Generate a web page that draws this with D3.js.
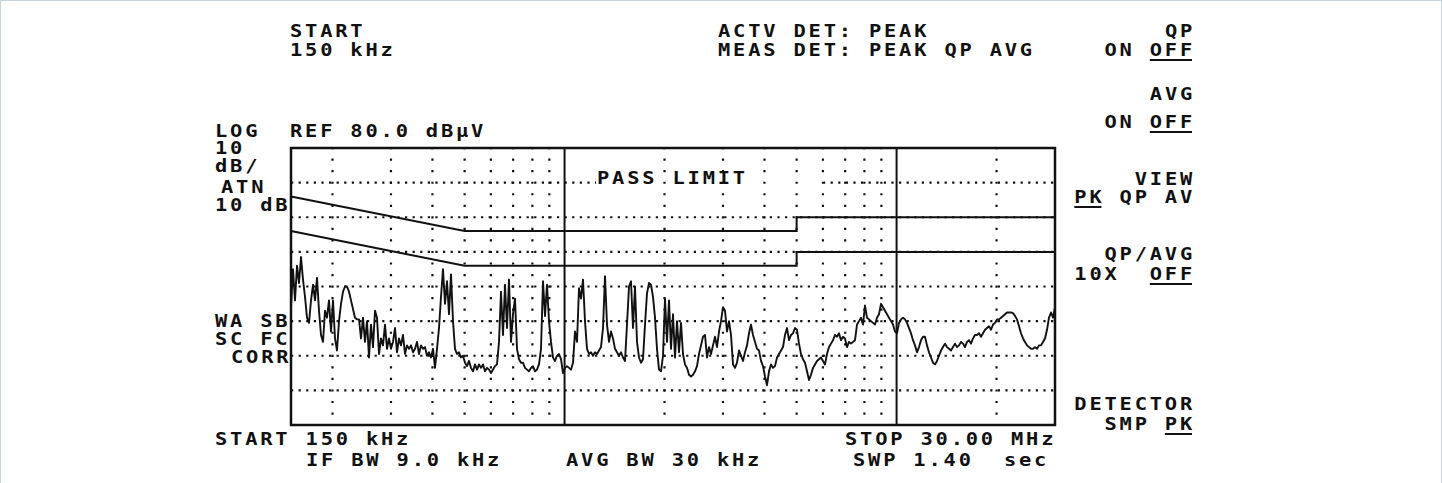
<!DOCTYPE html>
<html>
<head>
<meta charset="utf-8">
<script src="https://cdn.jsdelivr.net/npm/d3@7"></script>
<style>
  body { margin: 0; background: #fff; }
  text { font-family: "DejaVu Sans Mono", "Liberation Mono", monospace; font-weight: bold; fill: #111; }
</style>
</head>
<body>
<div id="viz"></div>
<script>
// EMI pre-scan, 150 kHz - 30 MHz, peak detector
let fStart = 0.15, fStop = 30;          // MHz
let refLevel = 80, dbPerDiv = 10, divs = 8;
let gridMinor = [0.2, 0.3, 0.4, 0.5, 0.6, 0.7, 0.8, 0.9, 2, 3, 4, 5, 6, 7, 8, 9, 20];
let gridMajor = [1, 10];
let gridLevels = [10, 20, 30, 40, 50, 60, 70];

// limit lines [MHz, dBuV]
let qpLimit  = [[0.15, 66], [0.5, 56], [5, 56], [5, 60], [30, 60]];
let avgLimit = [[0.15, 56], [0.5, 46], [5, 46], [5, 50], [30, 50]];

// measured trace, dBuV, sweep points equally spaced in log frequency
let traceDb = [
  34,45,36,46,41,48.5,42,37,31,29.5,
  36,40.5,36,42.5,33,26,24,33,31,36,
  27,36,25,21.5,30,35,38.5,40,40,38.5,
  36,33.5,31,30.5,30.5,25,31,24,30,19.5,
  29,22.5,33,31,20.5,25,23,29,22,25,
  22,24,28,21,25,23,26,20.5,23,22,
  23,21,22,24,20.5,23,22,22.5,20,21,
  19.5,22,16.5,22,28,37,45,35,41.5,32,
  43.5,30,22,20.5,21,19.5,20,18,17,18.5,
  16.5,15.5,17.5,16,17.5,16.5,17.5,15.5,16.5,16,
  15,16,17,17.5,24,38.5,26,40.5,28,42,
  24,32,36.5,22,19,18,18,16.5,16,15.5,
  16.5,17,15.5,16,17.5,22,41.5,31.5,40.5,30,
  24,19.5,18.5,20,20.5,19,15,16.5,17,16.5,
  16,18,27,24,39.5,36.5,42,30,22,20.5,
  21,20,21,20.5,21.5,22.5,28,43,29,24,
  27,25,22,21,20,21,19.5,18.5,29,40,
  41.5,28,40,24,19.5,18,19,29,38,41,
  40.5,37,31,22,16,15.5,20,36.5,24,36,
  22,32,19.5,30,21,29.5,20.5,17.5,16.5,14.5,
  14,14.5,15.5,17,20.5,23,25.5,26,19.5,22.5,
  20.5,23,25.5,22.5,27,30,34,33,27,30,
  26,17.5,16.5,18,21.5,20,18.5,21,23,26.5,
  29,26,24,22,21.5,18.5,17,14,11.5,15.5,
  17.5,16.5,17,19.5,20.5,21.5,22.5,26,28,24.5,
  26,26.5,28,27.5,23.5,20.5,19,18,15.5,13,
  14.5,16.5,17.5,18.5,19,19.5,18.5,17.5,20.5,22.5,
  23.5,24.5,26,25.5,26.5,24.5,25.5,25,22.5,24,
  23.5,24,24.5,29,30,31,29,34.5,31,30.5,
  30,29.5,29,31,32,35,34,33,32,31,
  30,29,27,26.5,29.5,30.5,31,30.5,29.5,28,
  26.5,24.5,23,21,22.5,24.5,25.5,25.5,23,21,
  19.5,18,17.5,18.5,20,21.5,22.5,23.5,22.5,22,
  21.5,22.5,23.5,22.5,23,24,23.5,22.5,24,24.5,
  23.5,25,26,26,26.5,25.5,26.5,27.5,28,28.5,
  27.5,29,29.5,30.5,30.5,31,31.5,32,32.5,32.5,
  32.5,32.3,31.5,30.5,28.5,26.5,25,24,23,22.5,
  22,22,22.5,22,23,23,24,25,27.5,31,
  32.5,31,34
];

// screen annotations: [text, x, baseline]
let leftLabels = [
  ["LOG", 215, 137], ["10", 215, 154], ["dB/", 215, 171.5], ["ATN", 221, 193], ["10 dB", 215, 210.5],
  ["WA SB", 215, 327], ["SC FC", 215, 345], ["CORR", 231, 363]
];
let headLabels = [
  ["START", 290, 36.5], ["150 kHz", 290, 56], ["REF 80.0 dBµV", 290, 137],
  ["ACTV DET: PEAK", 718, 36.5], ["MEAS DET: PEAK QP AVG", 718, 56]
];
let footLabels = [
  ["START 150 kHz", 215, 445], ["STOP 30.00 MHz", 845, 445],
  ["IF BW 9.0 kHz", 306, 466], ["AVG BW 30 kHz", 566, 466], ["SWP 1.40  sec", 853, 466]
];
// softkey menu, right aligned: [text, baseline, underlined chars]
let menuLabels = [
  ["QP", 36.5, null], ["ON OFF", 56, [3, 6]],
  ["AVG", 100, null], ["ON OFF", 128, [3, 6]],
  ["VIEW", 185, null], ["PK QP AV", 203, [0, 2]],
  ["QP/AVG", 260, null], ["10X  OFF", 280, [5, 8]],
  ["DETECTOR", 410, null], ["SMP PK", 430, [4, 6]]
];
let passText = "PASS LIMIT";

let width = 1442, height = 483;
let plot = {left: 291, right: 1055, top: 148, bottom: 425};
let pitch = 15.1, fontSize = 17, sx = 1.2, glyphW = 12;

let svg = d3.select("#viz").append("svg")
  .attr("width", width).attr("height", height);

svg.append("rect").attr("x", 0.5).attr("y", 0.5).attr("width", width - 1).attr("height", height + 4)
  .attr("fill", "#fff").attr("stroke", "#c9d3dc");

let x = d3.scaleLog().domain([fStart, fStop]).range([plot.left, plot.right]);
let y = d3.scaleLinear().domain([refLevel - dbPerDiv * divs, refLevel]).range([plot.bottom, plot.top]);

// horizontal dotted graticule
svg.append("g").selectAll("line").data(gridLevels).join("line")
  .attr("x1", plot.left).attr("x2", plot.right)
  .attr("y1", d => y(d)).attr("y2", d => y(d))
  .attr("stroke", "#111").attr("stroke-width", 2.2)
  .attr("stroke-dasharray", "2.2,5.4");

// the 70 dB line is blanked under the annotation
svg.append("rect").attr("x", 596).attr("y", y(70) - 2).attr("width", 228).attr("height", 4).attr("fill", "#fff");

// vertical dotted graticule
let dotStep = (y(0) - y(dbPerDiv)) / 3;
svg.append("g").selectAll("line").data(gridMinor).join("line")
  .attr("x1", d => x(d)).attr("x2", d => x(d))
  .attr("y1", plot.top - 1).attr("y2", plot.bottom)
  .attr("stroke", "#111").attr("stroke-width", 2.2)
  .attr("stroke-dasharray", "2.2," + (dotStep - 2.2));

// decade lines
svg.append("g").selectAll("line").data(gridMajor).join("line")
  .attr("x1", d => x(d)).attr("x2", d => x(d))
  .attr("y1", plot.top).attr("y2", plot.bottom)
  .attr("stroke", "#111").attr("stroke-width", 2);

// limit lines
let limitLine = d3.line().x(d => x(d[0])).y(d => y(d[1]));
svg.append("g").selectAll("path").data([qpLimit, avgLimit]).join("path")
  .attr("d", limitLine)
  .attr("fill", "none").attr("stroke", "#111").attr("stroke-width", 2);

// trace
let n = traceDb.length;
let tracePts = traceDb.map((v, i) => [fStart * Math.pow(fStop / fStart, i / (n - 1)), v]);
svg.append("path").datum(tracePts)
  .attr("d", d3.line().x(d => x(d[0])).y(d => y(d[1])))
  .attr("fill", "none").attr("stroke", "#111").attr("stroke-width", 1.9)
  .attr("stroke-linejoin", "round");

// frame
svg.append("rect")
  .attr("x", plot.left).attr("y", plot.top)
  .attr("width", plot.right - plot.left).attr("height", plot.bottom - plot.top)
  .attr("fill", "none").attr("stroke", "#111").attr("stroke-width", 2.5);

// instrument style text
function label(str, x0, base, ul) {
  svg.append("text")
    .attr("transform", "translate(" + x0 + "," + base + ") scale(" + sx + ",1)")
    .attr("font-size", fontSize)
    .style("letter-spacing", (pitch / sx - fontSize * 0.602) + "px")
    .style("white-space", "pre")
    .text(str);
  if (ul) {
    svg.append("line")
      .attr("x1", x0 + ul[0] * pitch).attr("x2", x0 + (ul[1] - 1) * pitch + glyphW)
      .attr("y1", base + 4).attr("y2", base + 4)
      .attr("stroke", "#111").attr("stroke-width", 2);
  }
}

leftLabels.concat(headLabels, footLabels).forEach(d => label(d[0], d[1], d[2]));
menuLabels.forEach(d => label(d[0], 1192 - glyphW - (d[0].length - 1) * pitch, d[1], d[2]));
label(passText, 597, 184);
</script>
</body>
</html>
